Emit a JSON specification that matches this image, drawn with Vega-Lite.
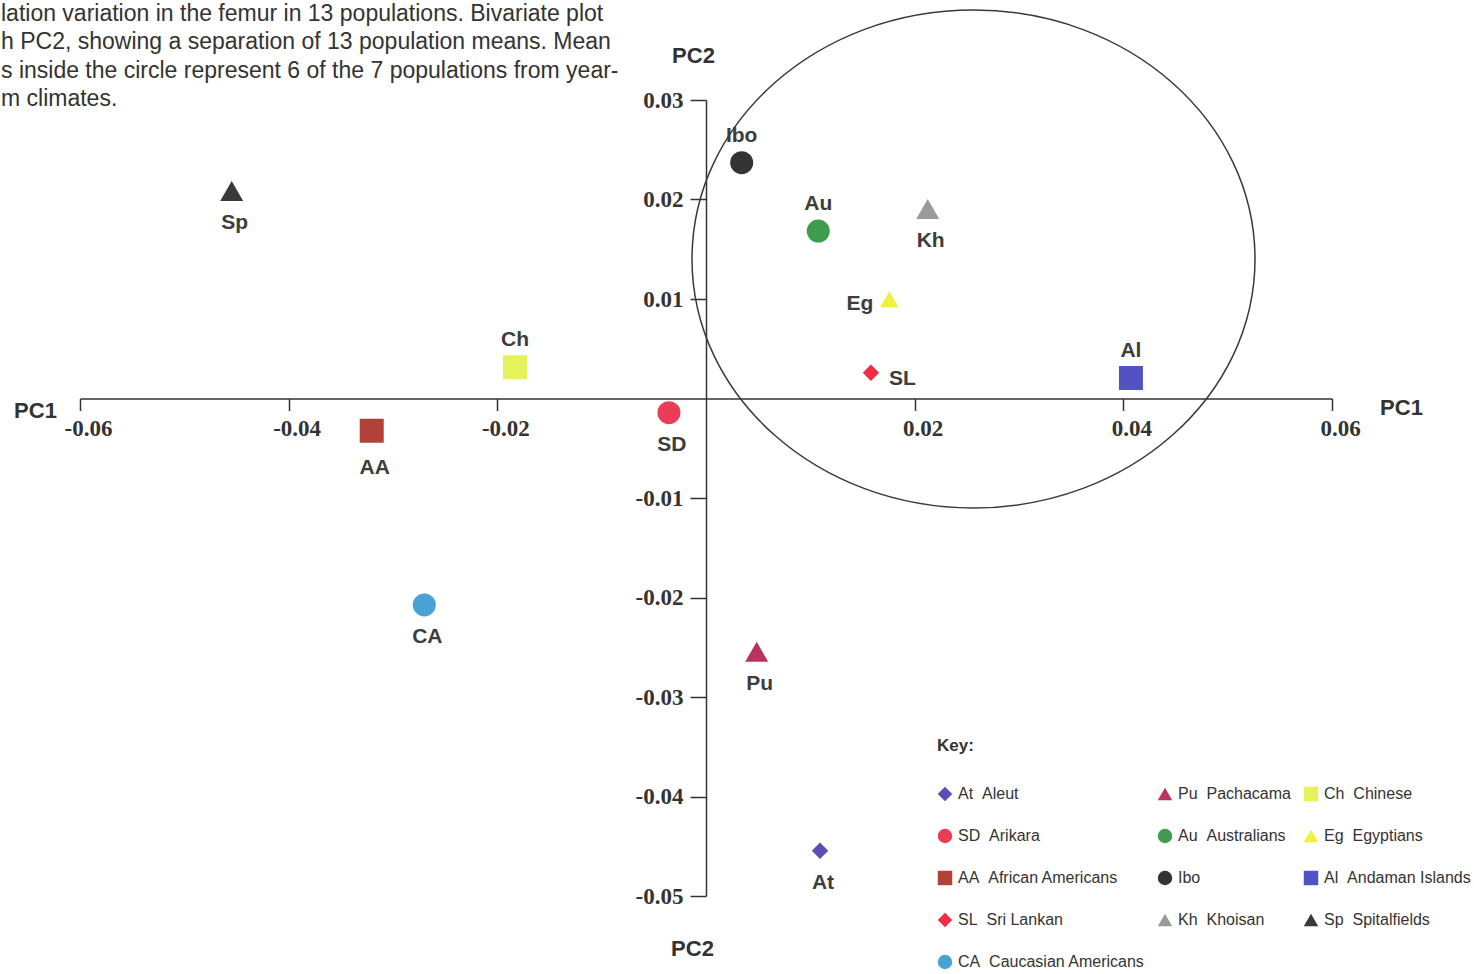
{
  "$schema": "https://vega.github.io/schema/vega-lite/v6.json",
  "width": 1252,
  "height": 796,
  "autosize": {"type": "none"},
  "padding": {"left": 80, "top": 100, "right": 142, "bottom": 78},
  "background": "white",
  "config": {"view": {"stroke": null}},
  "title": {
    "text": [
      "lation variation in the femur in 13 populations. Bivariate plot",
      "h PC2, showing a separation of 13 population means. Mean",
      "s inside the circle represent 6 of the 7 populations from year-",
      "m climates."
    ],
    "anchor": "start",
    "frame": "group",
    "orient": "top",
    "font": "Liberation Sans",
    "fontSize": 23,
    "fontWeight": "normal",
    "color": "#333333",
    "lineHeight": 28.5,
    "offset": 0,
    "dx": -79,
    "dy": 104
  },
  "datasets": {
    "pops": [
      {"code": "At", "key": "At\u00a0\u00a0Aleut", "pc1": 0.01093, "pc2": -0.04545},
      {"code": "Pu", "key": "Pu\u00a0\u00a0Pachacama", "pc1": 0.00486, "pc2": -0.02545},
      {"code": "Ch", "key": "Ch\u00a0\u00a0Chinese", "pc1": -0.01831, "pc2": 0.00314},
      {"code": "SD", "key": "SD\u00a0\u00a0Arikara", "pc1": -0.00355, "pc2": -0.00143},
      {"code": "Au", "key": "Au\u00a0\u00a0Australians", "pc1": 0.01076, "pc2": 0.01683},
      {"code": "Eg", "key": "Eg\u00a0\u00a0Egyptians", "pc1": 0.01757, "pc2": 0.00997},
      {"code": "AA", "key": "AA\u00a0\u00a0African Americans", "pc1": -0.03204, "pc2": -0.00324},
      {"code": "Ibo", "key": "Ibo", "pc1": 0.00342, "pc2": 0.0237},
      {"code": "Al", "key": "Al\u00a0\u00a0Andaman Islands", "pc1": 0.04073, "pc2": 0.00206},
      {"code": "SL", "key": "SL\u00a0\u00a0Sri Lankan", "pc1": 0.01581, "pc2": 0.00259},
      {"code": "Kh", "key": "Kh\u00a0\u00a0Khoisan", "pc1": 0.02125, "pc2": 0.01905},
      {"code": "Sp", "key": "Sp\u00a0\u00a0Spitalfields", "pc1": -0.04546, "pc2": 0.02085},
      {"code": "CA", "key": "CA\u00a0\u00a0Caucasian Americans", "pc1": -0.027, "pc2": -0.02075}
    ],
    "circle": [{"pc1": 0.02564, "pc2": 0.01402}]
  },
  "layer": [
    {
      "data": {"name": "circle"},
      "mark": {
        "type": "point",
        "shape": "M-1,0C-1,-0.4885,-0.5523,-0.8845,0,-0.8845C0.5523,-0.8845,1,-0.4885,1,0C1,0.4885,0.5523,0.8845,0,0.8845C-0.5523,0.8845,-1,0.4885,-1,0Z",
        "size": 316969,
        "filled": false,
        "stroke": "#3a3a3a",
        "strokeWidth": 1.5,
        "opacity": 1
      },
      "encoding": {
        "x": {
          "field": "pc1", "type": "quantitative",
          "scale": {"domain": [-0.06, 0.06], "nice": false, "zero": false},
          "axis": {
            "orient": "bottom",
            "offset": -497.5,
            "values": [-0.06, -0.04, -0.02, 0.02, 0.04, 0.06],
            "labelExpr": "replace(format(datum.value, '.2f'), '\u2212', '-')",
            "grid": false,
            "domainColor": "#333333", "domainWidth": 1.5,
            "tickColor": "#333333", "tickWidth": 1.5, "tickSize": 12,
            "labelFont": "Liberation Serif", "labelFontWeight": "bold", "labelFontSize": 23,
            "labelColor": "#333333", "labelPadding": 7, "labelOffset": 8,
            "labelFlush": false, "labelOverlap": false,
            "title": "PC1",
            "titleFont": "Liberation Sans", "titleFontSize": 22, "titleFontWeight": "bold",
            "titleColor": "#333333",
            "titleX": -45, "titleY": 12, "titleAlign": "center", "titleBaseline": "middle", "titleAngle": 0
          }
        },
        "y": {
          "field": "pc2", "type": "quantitative",
          "scale": {"domain": [-0.05, 0.03], "nice": false, "zero": false},
          "axis": {
            "orient": "left",
            "offset": -626,
            "values": [0.03, 0.02, 0.01, -0.01, -0.02, -0.03, -0.04, -0.05],
            "labelExpr": "replace(format(datum.value, '.2f'), '\u2212', '-')",
            "grid": false,
            "domainColor": "#333333", "domainWidth": 1.5,
            "tickColor": "#333333", "tickWidth": 1.5, "tickSize": 16,
            "labelFont": "Liberation Serif", "labelFontWeight": "bold", "labelFontSize": 23,
            "labelColor": "#333333", "labelPadding": 7,
            "labelFlush": false, "labelOverlap": false,
            "title": "PC2",
            "titleFont": "Liberation Sans", "titleFontSize": 22, "titleFontWeight": "bold",
            "titleColor": "#333333",
            "titleX": -13, "titleY": -45, "titleAlign": "center", "titleBaseline": "middle", "titleAngle": 0
          }
        }
      }
    },
    {
      "data": {"name": "circle"},
      "mark": {"type": "point", "opacity": 0},
      "encoding": {
        "x": {
          "field": "pc1", "type": "quantitative",
          "scale": {"domain": [-0.06, 0.06], "nice": false, "zero": false},
          "axis": {
            "orient": "top", "domain": false, "ticks": false, "labels": false, "grid": false,
            "title": "PC1",
            "titleFont": "Liberation Sans", "titleFontSize": 22, "titleFontWeight": "bold",
            "titleColor": "#333333",
            "titleX": 1321, "titleY": 307, "titleAlign": "center", "titleBaseline": "middle", "titleAngle": 0
          }
        },
        "y": {
          "field": "pc2", "type": "quantitative",
          "scale": {"domain": [-0.05, 0.03], "nice": false, "zero": false},
          "axis": {
            "orient": "right", "domain": false, "ticks": false, "labels": false, "grid": false,
            "title": "PC2",
            "titleFont": "Liberation Sans", "titleFontSize": 22, "titleFontWeight": "bold",
            "titleColor": "#333333",
            "titleX": -640, "titleY": 848, "titleAlign": "center", "titleBaseline": "middle", "titleAngle": 0
          }
        }
      }
    },
    {
      "data": {"name": "pops"},
      "mark": {"type": "point", "filled": true, "opacity": 1, "strokeWidth": 0},
      "encoding": {
        "x": {"field": "pc1", "type": "quantitative", "scale": {"domain": [-0.06, 0.06], "nice": false, "zero": false}, "axis": null},
        "y": {"field": "pc2", "type": "quantitative", "scale": {"domain": [-0.05, 0.03], "nice": false, "zero": false}, "axis": null},
        "color": {
          "field": "key", "type": "nominal",
          "sort": null,
          "scale": {
            "domain": ["At\u00a0\u00a0Aleut", "Pu\u00a0\u00a0Pachacama", "Ch\u00a0\u00a0Chinese", "SD\u00a0\u00a0Arikara", "Au\u00a0\u00a0Australians", "Eg\u00a0\u00a0Egyptians", "AA\u00a0\u00a0African Americans", "Ibo", "Al\u00a0\u00a0Andaman Islands", "SL\u00a0\u00a0Sri Lankan", "Kh\u00a0\u00a0Khoisan", "Sp\u00a0\u00a0Spitalfields", "CA\u00a0\u00a0Caucasian Americans"],
            "range": ["#5a4fb6", "#b8335e", "#e6f25a", "#ea3d55", "#3f9c4c", "#f0f23c", "#b1423a", "#333333", "#5252c4", "#ee2e44", "#9a9a9a", "#3a3a3a", "#4aa2d4"]
          },
          "legend": {
            "title": "Key:",
            "orient": "none",
            "legendX": 857,
            "legendY": 638,
            "columns": 3,
            "direction": "horizontal",
            "columnPadding": 12,
            "rowPadding": 26,
            "titleFont": "Liberation Sans", "titleFontSize": 17, "titleFontWeight": "bold", "titleColor": "#333333",
            "titlePadding": 31,
            "labelFont": "Liberation Sans", "labelFontSize": 16, "labelColor": "#333333",
            "labelOffset": 5,
            "labelLimit": 400,
            "symbolSize": 210, "symbolStrokeWidth": 0
          }
        },
        "shape": {
          "field": "key", "type": "nominal",
          "sort": null,
          "scale": {
            "domain": ["At\u00a0\u00a0Aleut", "Pu\u00a0\u00a0Pachacama", "Ch\u00a0\u00a0Chinese", "SD\u00a0\u00a0Arikara", "Au\u00a0\u00a0Australians", "Eg\u00a0\u00a0Egyptians", "AA\u00a0\u00a0African Americans", "Ibo", "Al\u00a0\u00a0Andaman Islands", "SL\u00a0\u00a0Sri Lankan", "Kh\u00a0\u00a0Khoisan", "Sp\u00a0\u00a0Spitalfields", "CA\u00a0\u00a0Caucasian Americans"],
            "range": ["diamond", "triangle-up", "square", "circle", "circle", "triangle-up", "square", "circle", "square", "diamond", "triangle-up", "triangle-up", "circle"]
          }
        },
        "size": {
          "condition": [
            {"test": "datum.code === 'At' || datum.code === 'SL'", "value": 270},
            {"test": "datum.code === 'Eg'", "value": 340},
            {"test": "datum.code === 'Ch' || datum.code === 'AA' || datum.code === 'Al'", "value": 576}
          ],
          "value": 530
        }
      }
    },
    {
      "data": {"name": "pops"},
      "transform": [{"filter": "indexof(['Sp','Kh','SD','CA','Pu','At'], datum.code) >= 0"}],
      "mark": {"type": "text", "font": "Liberation Sans", "fontSize": 21, "fontWeight": "bold", "color": "#3d3d3d", "dy": 32, "dx": 3, "baseline": "middle", "align": "center"},
      "encoding": {
        "x": {"field": "pc1", "type": "quantitative", "scale": {"domain": [-0.06, 0.06], "nice": false, "zero": false}, "axis": null},
        "y": {"field": "pc2", "type": "quantitative", "scale": {"domain": [-0.05, 0.03], "nice": false, "zero": false}, "axis": null},
        "text": {"field": "code"}
      }
    },
    {
      "data": {"name": "pops"},
      "transform": [{"filter": "datum.code === 'AA'"}],
      "mark": {"type": "text", "font": "Liberation Sans", "fontSize": 21, "fontWeight": "bold", "color": "#3d3d3d", "dy": 37, "dx": 3, "baseline": "middle", "align": "center"},
      "encoding": {
        "x": {"field": "pc1", "type": "quantitative", "scale": {"domain": [-0.06, 0.06], "nice": false, "zero": false}, "axis": null},
        "y": {"field": "pc2", "type": "quantitative", "scale": {"domain": [-0.05, 0.03], "nice": false, "zero": false}, "axis": null},
        "text": {"field": "code"}
      }
    },
    {
      "data": {"name": "pops"},
      "transform": [{"filter": "indexof(['Ibo','Au','Ch','Al'], datum.code) >= 0"}],
      "mark": {"type": "text", "font": "Liberation Sans", "fontSize": 21, "fontWeight": "bold", "color": "#3d3d3d", "dy": -27, "baseline": "middle", "align": "center"},
      "encoding": {
        "x": {"field": "pc1", "type": "quantitative", "scale": {"domain": [-0.06, 0.06], "nice": false, "zero": false}, "axis": null},
        "y": {"field": "pc2", "type": "quantitative", "scale": {"domain": [-0.05, 0.03], "nice": false, "zero": false}, "axis": null},
        "text": {"field": "code"}
      }
    },
    {
      "data": {"name": "pops"},
      "transform": [{"filter": "datum.code === 'Eg'"}],
      "mark": {"type": "text", "font": "Liberation Sans", "fontSize": 21, "fontWeight": "bold", "color": "#3d3d3d", "dx": -16, "dy": 5, "baseline": "middle", "align": "right"},
      "encoding": {
        "x": {"field": "pc1", "type": "quantitative", "scale": {"domain": [-0.06, 0.06], "nice": false, "zero": false}, "axis": null},
        "y": {"field": "pc2", "type": "quantitative", "scale": {"domain": [-0.05, 0.03], "nice": false, "zero": false}, "axis": null},
        "text": {"field": "code"}
      }
    },
    {
      "data": {"name": "pops"},
      "transform": [{"filter": "datum.code === 'SL'"}],
      "mark": {"type": "text", "font": "Liberation Sans", "fontSize": 21, "fontWeight": "bold", "color": "#3d3d3d", "dx": 18, "dy": 6, "baseline": "middle", "align": "left"},
      "encoding": {
        "x": {"field": "pc1", "type": "quantitative", "scale": {"domain": [-0.06, 0.06], "nice": false, "zero": false}, "axis": null},
        "y": {"field": "pc2", "type": "quantitative", "scale": {"domain": [-0.05, 0.03], "nice": false, "zero": false}, "axis": null},
        "text": {"field": "code"}
      }
    }
  ],
  "resolve": {"axis": {"x": "independent", "y": "independent"}}
}
